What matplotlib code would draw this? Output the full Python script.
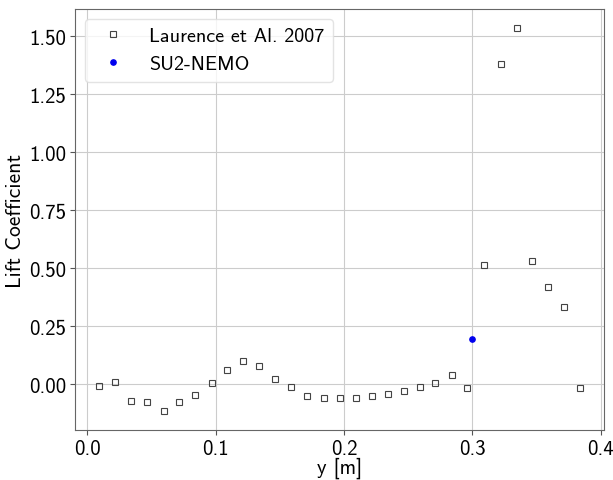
import matplotlib
matplotlib.use('Agg')
import matplotlib.pyplot as plt

plt.rcParams['font.family'] = ['cmss10', 'DejaVu Sans']
plt.rcParams['mathtext.fontset'] = 'cm'
plt.rcParams['axes.unicode_minus'] = False
plt.rcParams['axes.formatter.use_mathtext'] = True

# Laurence et al. 2007 experimental data
exp_y = [0.0093, 0.0216, 0.034, 0.0467, 0.0595, 0.0717, 0.084, 0.0969, 0.109, 0.121,
         0.134, 0.146, 0.159, 0.171, 0.184, 0.197, 0.209, 0.2217, 0.234, 0.2467,
         0.259, 0.271, 0.284, 0.296, 0.309, 0.322, 0.3347, 0.3466, 0.359, 0.3715, 0.3837]
exp_cl = [-0.006, 0.009, -0.072, -0.076, -0.115, -0.076, -0.048, 0.007, 0.063, 0.100,
          0.078, 0.023, -0.010, -0.052, -0.059, -0.059, -0.059, -0.052, -0.043, -0.029,
          -0.012, 0.006, 0.041, -0.016, 0.516, 1.382, 1.536, 0.531, 0.419, 0.334, -0.017]

# SU2-NEMO result
su2_y = [0.300]
su2_cl = [0.195]

fig = plt.figure(figsize=(6.13, 4.81), dpi=100)
ax = fig.add_axes([0.1223, 0.104, 0.8635, 0.875])

ax.plot(exp_y, exp_cl, 's', markerfacecolor='none', markeredgecolor='#444444',
        markersize=4.6, markeredgewidth=0.8, label='Laurence et Al. 2007')
ax.plot(su2_y, su2_cl, 'o', color='#0000ee', markersize=3.8, label='SU2-NEMO')

ax.set_xlim(-0.0096, 0.4027)
ax.set_ylim(-0.197, 1.618)
ax.set_xticks([0.0, 0.1, 0.2, 0.3, 0.4])
ax.set_xticklabels(['0.0', '0.1', '0.2', '0.3', '0.4'])
yt = [0.0, 0.25, 0.5, 0.75, 1.0, 1.25, 1.5]
ax.set_yticks(yt)
ax.set_yticklabels(['%.2f' % v for v in yt])
ax.tick_params(labelsize=15, color='#555555', pad=3)
ax.grid(True, color='#cccccc', linewidth=0.8)
ax.set_axisbelow(True)
for s in ax.spines.values():
    s.set_color('#666666')

ax.set_xlabel('y [m]', fontsize=15, labelpad=-1)
ax.set_ylabel('Lift Coefficient', fontsize=15.5, labelpad=3)
ax.legend(loc='upper left', fontsize=14.5, framealpha=0.8, edgecolor='#dddddd',
          borderaxespad=0.5, handletextpad=0.8)

plt.savefig('out.png', dpi=100)
